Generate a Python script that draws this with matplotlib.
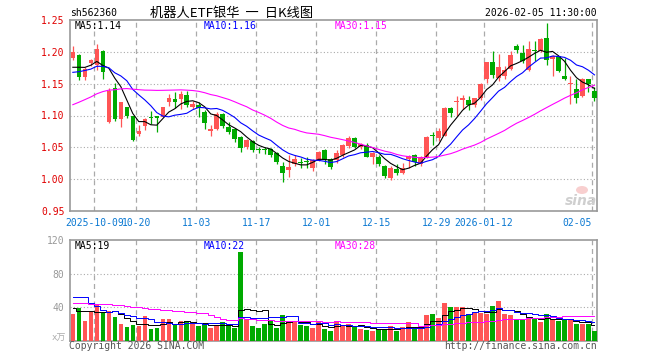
import numpy as np
import pandas as pd
import matplotlib
matplotlib.use('Agg')
import matplotlib.pyplot as plt
from matplotlib.patches import Ellipse

# trading days on the chart: 2025-09-25 .. 2026-02-05 without exchange holidays
holidays = pd.to_datetime(['2025-10-01', '2025-10-02', '2025-10-03', '2025-10-06',
                           '2025-10-07', '2025-10-08', '2026-01-01', '2026-01-02'])
days = pd.bdate_range('2025-09-25', '2026-02-05')
days = days[~days.isin(holidays)]

tick_dates = ['2025-10-09', '2025-10-20', '2025-11-03', '2025-11-17', '2025-12-01',
              '2025-12-15', '2025-12-29', '2026-01-12', '2026-02-05']
tick_labels = ['2025-10-09', '10-20', '11-03', '11-17', '12-01',
               '12-15', '12-29', '2026-01-12', '02-05']

open_ = [1.191, 1.196, 1.160, 1.183, 1.180, 1.202, 1.090, 1.143, 1.094, 1.113,
         1.099, 1.071, 1.083, 1.098, 1.099, 1.098, 1.121, 1.126, 1.1255, 1.133,
         1.114, 1.117, 1.106, 1.076, 1.079, 1.102, 1.082, 1.078, 1.066, 1.051,
         1.060, 1.047, 1.047, 1.047, 1.041, 1.020, 1.014, 1.024, 1.026, 1.027,
         1.018, 1.029, 1.046, 1.031, 1.030, 1.037, 1.052, 1.065, 1.050, 1.054,
         1.035, 1.035, 1.021, 1.001, 1.016, 1.009, 1.031, 1.037, 1.024, 1.034,
         1.069, 1.064, 1.068, 1.112, 1.121, 1.125, 1.125, 1.116, 1.127, 1.158,
         1.185, 1.159, 1.163, 1.174, 1.210, 1.199, 1.172, 1.203, 1.202, 1.222,
         1.189, 1.193, 1.163, 1.149, 1.142, 1.131, 1.157, 1.138]
high = [1.210, 1.197, 1.177, 1.189, 1.213, 1.203, 1.143, 1.151, 1.122, 1.114,
        1.100, 1.085, 1.096, 1.107, 1.100, 1.114, 1.134, 1.137, 1.1385, 1.1385,
        1.123, 1.121, 1.109, 1.085, 1.105, 1.104, 1.090, 1.080, 1.068, 1.063,
        1.062, 1.051, 1.050, 1.049, 1.043, 1.026, 1.038, 1.038, 1.033, 1.034,
        1.031, 1.044, 1.047, 1.033, 1.046, 1.055, 1.067, 1.066, 1.057, 1.056,
        1.042, 1.037, 1.022, 1.020, 1.024, 1.025, 1.037, 1.039, 1.036, 1.067,
        1.074, 1.081, 1.113, 1.114, 1.130, 1.133, 1.131, 1.128, 1.151, 1.185,
        1.201, 1.197, 1.178, 1.202, 1.213, 1.211, 1.217, 1.217, 1.222, 1.245,
        1.195, 1.194, 1.190, 1.163, 1.157, 1.159, 1.158, 1.145]
low = [1.187, 1.156, 1.156, 1.178, 1.172, 1.158, 1.088, 1.091, 1.082, 1.096,
       1.060, 1.068, 1.077, 1.086, 1.074, 1.097, 1.115, 1.112, 1.110, 1.114,
       1.111, 1.098, 1.078, 1.067, 1.077, 1.081, 1.071, 1.058, 1.043, 1.048,
       1.043, 1.041, 1.040, 1.034, 1.024, 0.995, 1.003, 1.021, 1.017, 1.018,
       1.013, 1.028, 1.024, 1.016, 1.025, 1.035, 1.049, 1.049, 1.048, 1.034,
       1.024, 1.021, 1.001, 0.998, 1.006, 1.008, 1.018, 1.020, 1.021, 1.033,
       1.054, 1.060, 1.067, 1.098, 1.099, 1.111, 1.108, 1.113, 1.125, 1.151,
       1.159, 1.155, 1.157, 1.172, 1.198, 1.183, 1.170, 1.186, 1.200, 1.179,
       1.162, 1.169, 1.156, 1.118, 1.120, 1.129, 1.137, 1.123]
close = [1.200, 1.160, 1.174, 1.187, 1.205, 1.168, 1.139, 1.095, 1.121, 1.099,
         1.062, 1.075, 1.095, 1.096, 1.096, 1.113, 1.127, 1.121, 1.134, 1.116,
         1.118, 1.112, 1.0885, 1.078, 1.103, 1.083, 1.0745, 1.063, 1.049, 1.061,
         1.046, 1.046, 1.045, 1.038, 1.026, 1.010, 1.019, 1.031, 1.025, 1.026,
         1.030, 1.043, 1.030, 1.019, 1.041, 1.054, 1.064, 1.051, 1.055, 1.035,
         1.041, 1.024, 1.005, 1.018, 1.009, 1.017, 1.036, 1.027, 1.035, 1.066,
         1.067, 1.075, 1.112, 1.104, 1.123, 1.127, 1.116, 1.127, 1.150, 1.184,
         1.164, 1.177, 1.171, 1.195, 1.203, 1.186, 1.204, 1.201, 1.220, 1.187,
         1.193, 1.170, 1.157, 1.150, 1.128, 1.158, 1.149, 1.128]
volume = [31.6, 38.8, 23.6, 34.0, 43.2, 33.2, 35.2, 28.4, 19.6, 16.4,
          18.4, 17.2, 29.2, 13.6, 15.2, 25.6, 25.6, 20.4, 23.2, 23.2,
          20.4, 17.6, 19.6, 15.2, 18.4, 22.4, 18.4, 15.6, 106.0, 24.4,
          17.6, 15.6, 19.6, 24.4, 15.6, 30.4, 23.2, 23.2, 18.4, 17.2,
          15.2, 23.2, 14.4, 11.6, 23.6, 18.4, 20.4, 16.4, 14.4, 13.2,
          11.6, 14.4, 14.4, 17.6, 11.6, 16.4, 22.4, 14.4, 15.6, 30.4,
          31.6, 27.6, 45.2, 40.4, 40.4, 39.6, 31.6, 34.4, 33.2, 31.6,
          41.2, 47.2, 31.6, 30.4, 26.4, 26.4, 26.4, 26.4, 22.4, 31.6,
          25.2, 23.6, 24.4, 26.0, 19.5, 19.5, 19.5, 11.5]

# sessions before the window, estimated from where the MA lines start
warmup_close = [1.045, 1.05, 1.06, 1.055, 1.065, 1.07, 1.075, 1.08, 1.085, 1.09,
                1.10, 1.115, 1.10, 1.105, 1.11, 1.12, 1.115, 1.125, 1.13, 1.135,
                1.15, 1.155, 1.165, 1.16, 1.17, 1.16, 1.175, 1.17, 1.175]
warmup_vol = [35, 40, 48, 38, 45, 52, 40, 36, 44, 50, 42, 38, 46, 40, 35, 42, 48, 39, 37, 39,
              38.8, 23.6, 95, 86, 80, 54.3, 23.6, 36, 47]

W, H = 660, 360
RED, GREEN = '#ff5555', '#00aa00'
GRID = '#aaaaaa'
MONO = 'DejaVu Sans Mono'


def fx(px):
    return px / W


def fy(py):
    return 1 - py / H


def moving_avgs(series, warmup):
    s = pd.Series(list(warmup) + list(series))
    return [s.rolling(n).mean().values[len(warmup):] for n in (5, 10, 30)]


def style_panel(ax, hlines):
    for sp in ax.spines.values():
        sp.set_color('#999999')
        sp.set_linewidth(1.2)
    ax.tick_params(length=0)
    for h in hlines:
        ax.axhline(h, color=GRID, lw=0.8, ls=(0, (1, 2)), zorder=0)
    for t in tick_pos:
        ax.axvline(t, color=GRID, lw=0.9, ls=(0, (4, 3)), zorder=0)


x = np.arange(len(close))
o, hi, lo, c = map(np.array, (open_, high, low, close))
up = c >= o
colors = np.where(up, RED, GREEN)
tick_pos = [days.get_loc(pd.Timestamp(d)) - 0.4 for d in tick_dates]

fig = plt.figure(figsize=(W / 100, H / 100), dpi=100)
ax = fig.add_axes([fx(70), fy(210.7), fx(527), 190.4 / H])
axv = fig.add_axes([fx(70), fy(340.7), fx(527), 100.7 / H])

# price panel
style_panel(ax, [1.00, 1.05, 1.10, 1.15, 1.20])
ax.vlines(x, lo, hi, colors=colors, lw=0.9, zorder=2)
body = np.maximum(np.abs(c - o), 0.0016)
ax.bar(x, body, bottom=np.minimum(o, c), width=0.75, color=colors, zorder=3)
ma5, ma10, ma30 = moving_avgs(close, warmup_close)
ax.plot(x, ma5, color='black', lw=0.8, zorder=4)
ax.plot(x, ma10, color='#0000ff', lw=0.8, zorder=4)
ax.plot(x, ma30, color='#ff00ff', lw=0.8, zorder=4)
ax.set_xlim(-0.47, 87.42)
ax.set_ylim(0.95, 1.25)
yt = [0.95, 1.00, 1.05, 1.10, 1.15, 1.20, 1.25]
ax.set_yticks(yt)
ax.set_yticklabels([f'{v:.2f}' for v in yt], color='#e00000', fontsize=7, family=MONO)
ax.tick_params(axis='y', pad=4)
ax.set_xticks(tick_pos)
ax.set_xticklabels(tick_labels, color='#0a78d2', fontsize=7, family=MONO)
ax.tick_params(axis='x', pad=5)
ax.get_xticklabels()[-1].set_ha('right')

# volume panel
style_panel(axv, [40, 80])
axv.bar(x, volume, width=0.75, color=colors, zorder=3)
v5, v10, v30 = moving_avgs(volume, warmup_vol)
axv.plot(x, v5, color='black', lw=0.7, drawstyle='steps-mid', zorder=4)
axv.plot(x, v10, color='#0000ff', lw=0.7, drawstyle='steps-mid', zorder=4)
axv.plot(x, v30, color='#ff00ff', lw=0.7, drawstyle='steps-mid', zorder=4)
axv.set_xlim(-0.47, 87.42)
axv.set_ylim(0, 120)
axv.set_yticks([40, 80, 120])
axv.set_yticklabels(['40', '80', '120'], color='#999999', fontsize=7, family=MONO)
axv.tick_params(axis='y', pad=4)
axv.set_xticks([])

# header and labels
fig.text(fx(70), fy(13), 'sh562360', fontsize=7, family=MONO, va='center')
fig.text(fx(150), fy(13), '机器人ETF银华  一  日K线图', fontsize=9.5,
         family=['Noto Sans CJK SC', 'DejaVu Sans'], va='center')
fig.text(fx(597), fy(13), '2026-02-05 11:30:00', fontsize=7, family=MONO,
         va='center', ha='right')

fig.text(fx(75), fy(26), 'MA5:1.14', fontsize=7, family=MONO, va='center', color='black')
fig.text(fx(204), fy(26), 'MA10:1.16', fontsize=7, family=MONO, va='center', color='#0000ff')
fig.text(fx(335), fy(26), 'MA30:1.15', fontsize=7, family=MONO, va='center', color='#ff00ff')
fig.text(fx(75), fy(246), 'MA5:19', fontsize=7, family=MONO, va='center', color='black')
fig.text(fx(204), fy(246), 'MA10:22', fontsize=7, family=MONO, va='center', color='#0000ff')
fig.text(fx(335), fy(246), 'MA30:28', fontsize=7, family=MONO, va='center', color='#ff00ff')

fig.text(fx(66), fy(338), 'x万', fontsize=6.5, family=[MONO, 'Noto Sans CJK SC'],
         va='center', ha='right', color='#aaaaaa')
fig.text(fx(69), fy(346), 'Copyright 2026 SINA.COM', fontsize=7, family=MONO,
         va='center', color='#555555')
fig.text(fx(597), fy(346), 'http://finance.sina.com.cn', fontsize=7, family=MONO,
         va='center', ha='right', color='#555555')

# sina watermark
fig.patches.append(Ellipse((fx(582), fy(190)), 12 / W, 8 / H, transform=fig.transFigure,
                           facecolor='#f7c4c4', edgecolor='none', alpha=0.8))
fig.text(fx(597), fy(201), 'sina', fontsize=10, style='italic', weight='bold',
         color='#cfcfcf', ha='right', va='center')

fig.savefig('out.png', dpi=100)
